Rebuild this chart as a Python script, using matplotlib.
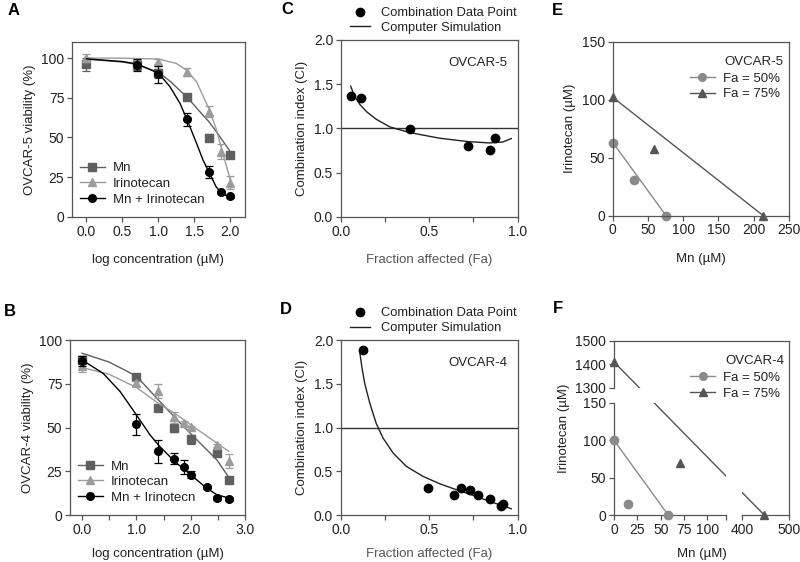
import matplotlib
matplotlib.use("Agg")
import matplotlib.pyplot as plt
from matplotlib.lines import Line2D
import numpy as np

plt.rcParams['font.family'] = ['Liberation Sans', 'DejaVu Sans']
plt.rcParams['font.size'] = 9

# ---- Panel A: OVCAR-5 viability ----
a_mn_x = [0, 0.7, 1.0, 1.4, 1.7, 2.0]
a_mn_y = [96.0, 95.5, 90.4, 75.5, 49.9, 38.8]
a_mn_err = [4, 3, 3, 2, 2, 2]
a_iri_x = [0, 0.7, 1.0, 1.4, 1.7, 1.875, 2.0]
a_iri_y = [99.8, 97.0, 97.7, 91.0, 66.2, 41.1, 21.6]
a_iri_err = [2.5, 2, 1.5, 2.5, 3.5, 4.5, 4]
a_cmb_x = [0.7, 1.0, 1.4, 1.7, 1.875, 2.0]
a_cmb_y = [95.6, 89.7, 61.4, 28.3, 15.5, 13.0]
a_cmb_err = [4, 5.5, 4, 4, 1, 1]
# fitted curves
a_mn_cx = [0, 0.5, 0.7, 1.0, 1.16, 1.4, 1.6, 1.7, 1.8, 1.9, 2.0]
a_mn_cy = [99.3, 97.5, 96.0, 91.0, 85.5, 75.3, 65.0, 60.0, 54.0, 47.5, 41.0]
a_iri_cx = [0, 0.5, 1.0, 1.25, 1.4, 1.53, 1.7, 1.8, 1.87, 1.94, 2.0]
a_iri_cy = [100, 99.9, 99.4, 96.6, 92.0, 85.0, 68.3, 55.8, 44.2, 32.7, 23.3]
a_cmb_cx = [0, 0.5, 0.7, 1.0, 1.16, 1.3, 1.4, 1.53, 1.62, 1.7, 1.8, 1.87, 1.94, 2.0]
a_cmb_cy = [99.5, 97.8, 96.3, 90.5, 82.0, 71.5, 61.0, 46.3, 35.8, 28.5, 19.1, 15.3, 13.5, 12.8]

# ---- Panel B: OVCAR-4 viability ----
b_mn_x = [0, 1.0, 1.4, 1.7, 2.0, 2.48, 2.7]
b_mn_y = [88.8, 78.7, 61.5, 49.7, 43.4, 35.4, 20.2]
b_mn_err = [2, 1.5, 1.5, 2, 2.5, 1.5, 1.5]
b_iri_x = [0, 1.0, 1.4, 1.7, 1.875, 2.0, 2.48, 2.7]
b_iri_y = [85.0, 75.4, 70.7, 55.8, 52.6, 50.1, 39.8, 31.0]
b_iri_err = [3, 1.5, 4, 3, 1, 1, 1, 4]
b_cmb_x = [0, 1.0, 1.4, 1.7, 1.875, 2.0, 2.3, 2.48, 2.7]
b_cmb_y = [88.2, 52.0, 36.4, 32.2, 27.2, 23.0, 15.8, 9.7, 9.1]
b_cmb_err = [3, 6, 6.5, 3, 4, 2, 1, 1, 1]
b_mn_cx = [0, 0.5, 1.0, 1.4, 1.7, 2.0, 2.48, 2.7]
b_mn_cy = [92.6, 87.5, 79.5, 66.0, 56.0, 46.5, 31.5, 21.5]
b_iri_cx = [0, 0.5, 1.0, 1.4, 1.7, 2.0, 2.48, 2.7]
b_iri_cy = [84.4, 80.5, 73.0, 64.0, 58.3, 51.6, 41.1, 36.4]
b_cmb_cx = [0, 0.39, 0.7, 1.0, 1.25, 1.4, 1.7, 2.0, 2.29, 2.48, 2.7]
b_cmb_cy = [88.8, 81.0, 70.7, 57.3, 45.9, 40.2, 30.7, 23.0, 15.4, 11.6, 9.7]

# ---- Panel C / D: combination index ----
c_fa = [0.055, 0.113, 0.39, 0.72, 0.845, 0.87]
c_ci = [1.37, 1.345, 0.99, 0.80, 0.757, 0.89]
c_sim_fa = [0.056, 0.079, 0.107, 0.145, 0.2, 0.277, 0.39, 0.56, 0.72, 0.84, 0.917, 0.964]
c_sim_ci = [1.477, 1.356, 1.273, 1.19, 1.104, 1.017, 0.953, 0.889, 0.851, 0.836, 0.847, 0.885]
d_fa = [0.126, 0.493, 0.638, 0.678, 0.729, 0.776, 0.846, 0.904, 0.917]
d_ci = [1.893, 0.309, 0.225, 0.309, 0.29, 0.232, 0.187, 0.099, 0.126]
d_sim_fa = [0.107, 0.12, 0.136, 0.164, 0.2, 0.239, 0.296, 0.371, 0.465, 0.559, 0.653, 0.748, 0.842, 0.964]
d_sim_ci = [1.87, 1.68, 1.50, 1.28, 1.05, 0.88, 0.709, 0.556, 0.442, 0.358, 0.29, 0.225, 0.156, 0.072]

# ---- Panel E / F: isobolograms ----
e50_mn = [0, 30.8, 75.8]
e50_iri = [63.1, 30.7, 0]
e75_mn = [0, 58.2, 214]
e75_iri = [102, 57.9, 0]
f50_mn = [0, 14.5, 58]
f50_iri = [100, 15, 0]
f75_mn = [0, 70.3, 447]
f75_iri = [1410, 69, 0]

C_MN = '#5f5f5f'
C_IRI = '#9c9c9c'
C_CMB = '#000000'
C_SPINE = '#555555'
C_TXT = '#222222'
TICK_FS = 10
LAB_FS = 9.5

fig = plt.figure(figsize=(8, 5.62), dpi=100)


def style(ax):
    for s in ax.spines.values():
        s.set_color(C_SPINE)
        s.set_linewidth(0.9)
    ax.tick_params(direction='out', length=3.5, width=0.9, color=C_SPINE,
                   labelsize=TICK_FS, labelcolor=C_TXT, pad=2)
    ax.tick_params(which='minor', direction='out', length=3.5, width=0.9, color=C_SPINE)


def viability(ax, data, curves, xlim, xticks, ylim, ylabel, labels, xpad):
    cols = [C_MN, C_IRI, C_CMB]
    marks = ['s', '^', 'o']
    for (x, y, e), (cx, cy), c, m in zip(data, curves, cols, marks):
        ax.plot(cx, cy, color=c, lw=1.0)
        ax.errorbar(x, y, yerr=e, fmt='none', ecolor=c, elinewidth=0.9,
                    capsize=3, capthick=0.9)
        ax.plot(x, y, ls='none', marker=m, color=c, ms=5.5, clip_on=False)
    ax.set_xlim(*xlim)
    ax.set_ylim(*ylim)
    ax.set_xticks(xticks)
    ax.set_ylabel(ylabel, fontsize=LAB_FS, color=C_TXT)
    ax.set_xlabel('log concentration (µM)', fontsize=LAB_FS, color=C_TXT, labelpad=xpad)
    style(ax)
    handles = [Line2D([], [], color=c, marker=m, ms=5.5, lw=1.0) for c, m in zip(cols, marks)]
    ax.legend(handles, labels, loc='lower left', bbox_to_anchor=(0.0, 0.02),
              frameon=False, fontsize=LAB_FS, handlelength=1.9, handletextpad=0.6,
              labelspacing=0.25, borderaxespad=0.2, labelcolor=C_TXT)


# A
axA = fig.add_axes([0.09, 0.614, 0.216, 0.311])
viability(axA,
          [(a_mn_x, a_mn_y, a_mn_err), (a_iri_x, a_iri_y, a_iri_err), (a_cmb_x, a_cmb_y, a_cmb_err)],
          [(a_mn_cx, a_mn_cy), (a_iri_cx, a_iri_cy), (a_cmb_cx, a_cmb_cy)],
          (-0.2, 2.2), [0, 0.5, 1.0, 1.5, 2.0], (0, 110), 'OVCAR-5 viability (%)',
          ['Mn', 'Irinotecan', 'Mn + Irinotecan'], 11)
axA.set_yticks([0, 25, 50, 75, 100])
axA.set_xticklabels(['0.0', '0.5', '1.0', '1.5', '2.0'])

# B
axB = fig.add_axes([0.0875, 0.0836, 0.219, 0.311])
viability(axB,
          [(b_mn_x, b_mn_y, b_mn_err), (b_iri_x, b_iri_y, b_iri_err), (b_cmb_x, b_cmb_y, b_cmb_err)],
          [(b_mn_cx, b_mn_cy), (b_iri_cx, b_iri_cy), (b_cmb_cx, b_cmb_cy)],
          (-0.22, 3.0), [0, 1, 2, 3], (0, 100), 'OVCAR-4 viability (%)',
          ['Mn', 'Irinotecan', 'Mn + Irinotecn'], 8)
axB.set_yticks([0, 25, 50, 75, 100])
axB.set_xticklabels(['0.0', '1.0', '2.0', '3.0'])
axB.set_xticks([0.5, 1.5, 2.5], minor=True)


def ci_panel(ax, fa, ci, sfa, sci, name, xpad):
    ax.axhline(1.0, color='#333333', lw=1.0)
    ax.plot(sfa, sci, color='#222222', lw=1.0)
    ax.plot(fa, ci, ls='none', marker='o', color='black', ms=6, clip_on=False)
    ax.set_xlim(0, 1)
    ax.set_ylim(0, 2)
    ax.set_xticks([0, 0.5, 1.0])
    ax.set_xticklabels(['0.0', '0.5', '1.0'])
    ax.set_xticks([0.25, 0.75], minor=True)
    ax.set_yticks([0, 0.5, 1.0, 1.5, 2.0])
    ax.set_yticklabels(['0.0', '0.5', '1.0', '1.5', '2.0'])
    ax.set_xlabel('Fraction affected (Fa)', fontsize=LAB_FS, color='#555555', labelpad=xpad)
    ax.set_ylabel('Combination index (CI)', fontsize=LAB_FS, color=C_TXT)
    style(ax)
    ax.text(0.94, 0.867, name, transform=ax.transAxes, ha='right', va='center',
            fontsize=LAB_FS, color=C_TXT)
    handles = [Line2D([], [], ls='none', marker='o', color='black', ms=6),
               Line2D([], [], color='#222222', lw=1.0)]
    ax.legend(handles, ['Combination Data Point', 'Computer Simulation'],
              loc='lower left', bbox_to_anchor=(0.05, 1.035), frameon=False,
              fontsize=9.3, handlelength=1.6, handletextpad=0.8,
              labelspacing=0.2, borderaxespad=0.0, borderpad=0.0, labelcolor=C_TXT)


axC = fig.add_axes([0.426, 0.614, 0.221, 0.315])
ci_panel(axC, c_fa, c_ci, c_sim_fa, c_sim_ci, 'OVCAR-5', 11)
axD = fig.add_axes([0.426, 0.0836, 0.221, 0.311])
ci_panel(axD, d_fa, d_ci, d_sim_fa, d_sim_ci, 'OVCAR-4', 8)

C50 = '#8a8a8a'
C75 = '#555555'


def iso_legend(ax, name):
    handles = [Line2D([], [], color=C50, marker='o', ms=5.5, lw=1.0),
               Line2D([], [], color=C75, marker='^', ms=5.5, lw=1.0)]
    ax.legend(handles, ['Fa = 50%', 'Fa = 75%'], loc='upper right',
              bbox_to_anchor=(1.0, 0.875), frameon=False, fontsize=LAB_FS,
              handlelength=1.9, handletextpad=0.6, labelspacing=0.25,
              borderaxespad=0.3, labelcolor=C_TXT)
    ax.text(0.635, 0.885, name, transform=ax.transAxes, ha='left', va='center',
            fontsize=LAB_FS, color=C_TXT)


# E
axE = fig.add_axes([0.766, 0.616, 0.22, 0.31])
axE.plot([e50_mn[0], e50_mn[-1]], [e50_iri[0], e50_iri[-1]], color=C50, lw=1.0)
axE.plot([e75_mn[0], e75_mn[-1]], [e75_iri[0], e75_iri[-1]], color=C75, lw=1.0)
axE.plot(e50_mn, e50_iri, ls='none', marker='o', color=C50, ms=6, clip_on=False)
axE.plot(e75_mn, e75_iri, ls='none', marker='^', color=C75, ms=6, clip_on=False)
axE.set_xlim(0, 250)
axE.set_ylim(0, 150)
axE.set_xticks([0, 50, 100, 150, 200, 250])
axE.set_yticks([0, 50, 100, 150])
axE.set_xlabel('Mn (µM)', fontsize=LAB_FS, color=C_TXT, labelpad=11)
axE.set_ylabel('Irinotecan (µM)', fontsize=LAB_FS, color=C_TXT)
style(axE)
iso_legend(axE, 'OVCAR-5')


# F: broken axes through a piecewise-linear scale
def piecewise(src, dst):
    src = np.asarray(src, float)
    dst = np.asarray(dst, float)

    def f(v):
        v = np.asarray(v, float)
        out = np.interp(v, src, dst)
        lo = v < src[0]
        hi = v > src[-1]
        out = np.where(lo, dst[0] + (v - src[0]) * (dst[1] - dst[0]) / (src[1] - src[0]), out)
        out = np.where(hi, dst[-1] + (v - src[-1]) * (dst[-1] - dst[-2]) / (src[-1] - src[-2]), out)
        return out
    return f


fx_src, fx_dst = [0, 120, 400, 500], [0, 112 / 175, 128 / 175, 1]
fy_src, fy_dst = [0, 150, 1300, 1500], [0, 112 / 174, 127 / 174, 1]

axF = fig.add_axes([0.7675, 0.0836, 0.219, 0.31])
axF.set_xscale('function', functions=(piecewise(fx_src, fx_dst), piecewise(fx_dst, fx_src)))
axF.set_yscale('function', functions=(piecewise(fy_src, fy_dst), piecewise(fy_dst, fy_src)))
axF.set_xlim(0, 500)
axF.set_ylim(0, 1500)
axF.plot([f50_mn[0], f50_mn[-1]], [f50_iri[0], f50_iri[-1]], color=C50, lw=1.0)
axF.plot([f75_mn[0], f75_mn[-1]], [f75_iri[0], f75_iri[-1]], color=C75, lw=1.0)
# blank out the break bands
axF.axhspan(150, 1300, color='white', lw=0, zorder=2.2)
axF.axvspan(120, 400, color='white', lw=0, zorder=2.2)
axF.plot(f50_mn, f50_iri, ls='none', marker='o', color=C50, ms=6, clip_on=False, zorder=3)
axF.plot(f75_mn, f75_iri, ls='none', marker='^', color=C75, ms=6, clip_on=False, zorder=3)
axF.set_xticks([0, 25, 50, 75, 100, 120, 400, 500])
axF.set_xticklabels(['0', '25', '50', '75', '100', '', '400', '500'])
axF.set_yticks([0, 50, 100, 150, 1300, 1400, 1500])
axF.set_xlabel('Mn (µM)', fontsize=LAB_FS, color=C_TXT, labelpad=8)
axF.set_ylabel('Irinotecan (µM)', fontsize=LAB_FS, color=C_TXT)
style(axF)
axF.spines['left'].set_visible(False)
axF.spines['bottom'].set_visible(False)
for lo, hi in [(0, 150), (1300, 1500)]:
    axF.plot([0, 0], [lo, hi], color=C_SPINE, lw=0.9, clip_on=False,
             transform=axF.get_yaxis_transform(), zorder=2.6)
for lo, hi in [(0, 120), (400, 500)]:
    axF.plot([lo, hi], [0, 0], color=C_SPINE, lw=0.9, clip_on=False,
             transform=axF.get_xaxis_transform(), zorder=2.6)
iso_legend(axF, 'OVCAR-4')

# panel letters
for letter, (x, y) in {'A': (8, 15), 'B': (4, 316), 'C': (281, 14), 'D': (280, 314),
                       'E': (552, 15), 'F': (553, 313)}.items():
    fig.text(x / 800, 1 - y / 562, letter, fontsize=12, fontweight='bold', ha='left', va='baseline')

fig.savefig('out.png', dpi=100)
